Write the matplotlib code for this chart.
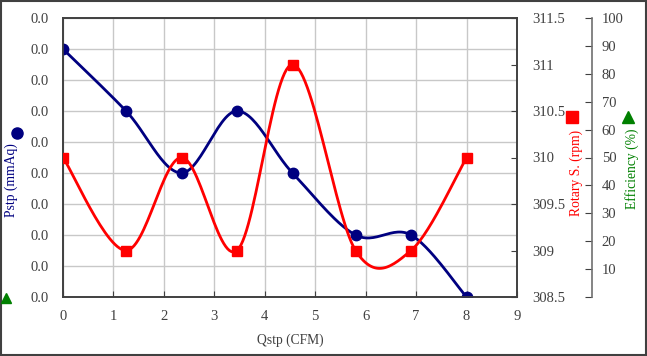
import matplotlib.pyplot as plt
import numpy as np
from matplotlib.patches import Rectangle
from matplotlib.ticker import FuncFormatter, MultipleLocator

plt.rcParams['font.family'] = ['Liberation Serif', 'DejaVu Serif']
plt.rcParams['font.size'] = 10.5

# data
qstp = [0.0, 1.25, 2.35, 3.45, 4.55, 5.8, 6.9, 8.0]
pstp = [0.008, 0.006, 0.004, 0.006, 0.004, 0.002, 0.002, 0.0]
rotary = [310, 309, 310, 309, 311, 309, 309, 310]
x_ticks = list(range(0, 10))
rot_ticks = [308.5, 309, 309.5, 310, 310.5, 311, 311.5]
eff_ticks = list(range(0, 101, 10))


def smooth(x, y, n=30):
    # excel-like smoothed line (catmull-rom bezier)
    x = np.asarray(x, float)
    y = np.asarray(y, float)
    px = np.concatenate([[x[0]], x, [x[-1]]])
    py = np.concatenate([[y[0]], y, [y[-1]]])
    xs, ys = [], []
    t = np.linspace(0, 1, n)
    for i in range(1, len(px) - 2):
        p0 = np.array([px[i], py[i]])
        p3 = np.array([px[i + 1], py[i + 1]])
        p1 = p0 + (np.array([px[i + 1], py[i + 1]]) - np.array([px[i - 1], py[i - 1]])) / 6
        p2 = p3 - (np.array([px[i + 2], py[i + 2]]) - np.array([px[i], py[i]])) / 6
        b = ((1 - t) ** 3)[:, None] * p0 + (3 * (1 - t) ** 2 * t)[:, None] * p1 \
            + (3 * (1 - t) * t ** 2)[:, None] * p2 + (t ** 3)[:, None] * p3
        xs.extend(b[:, 0])
        ys.extend(b[:, 1])
    return xs, ys


blue = '#000080'
red = '#ff0000'
green = '#008000'
axcol = '#404040'
txtcol = '#404040'
lab_fs = 9.8

fig = plt.figure(figsize=(6.47, 3.56), dpi=100)
ax = fig.add_axes([63 / 647, 1 - 297 / 356, 454 / 647, 279 / 356])
ax2 = ax.twinx()
ax3 = ax.twinx()

# Pstp
sx, sy = smooth(qstp, pstp)
ax.plot(sx, sy, color=blue, lw=2, zorder=3)
ax.plot(qstp, pstp, 'o', color=blue, ms=7.5, zorder=4)
ax.set_xlim(0, 9)
ax.set_ylim(0, 0.009)
ax.set_xticks(x_ticks)
ax.yaxis.set_major_locator(MultipleLocator(0.001))
ax.yaxis.set_major_formatter(FuncFormatter(lambda v, p: '%.1f' % v))
ax.grid(True, color='#c8c8c8', lw=1)
ax.set_axisbelow(True)
ax.tick_params(direction='in', colors=axcol, labelcolor=txtcol, length=4, pad=9)
ax.tick_params(axis='y', length=0, pad=10)
ax.set_xlabel('Qstp (CFM)', color=txtcol, fontsize=lab_fs)
ax.xaxis.set_label_coords(0.5, -0.13)
ax.set_ylabel('Pstp (mmAq)', color=blue, fontsize=lab_fs)
ax.yaxis.set_label_coords(-0.1, 0.42)

# Rotary speed
rx, ry = smooth(qstp, rotary)
ax2.plot(rx, ry, color=red, lw=2, zorder=3)
ax2.plot(qstp, rotary, 's', color=red, ms=7, zorder=4)
ax2.set_ylim(308.5, 311.5)
ax2.set_yticks(rot_ticks)
ax2.yaxis.set_major_formatter(FuncFormatter(lambda v, p: '%g' % v))
ax2.tick_params(direction='in', colors=axcol, labelcolor=txtcol, length=4, pad=11)
ax2.set_ylabel('Rotary S. (rpm)', color=red, fontsize=lab_fs)
ax2.yaxis.set_label_coords(1.115, 0.444)

# Efficiency (empty axis)
ax3.spines['right'].set_position(('axes', 1.165))
ax3.set_ylim(0, 100)
ax3.set_yticks(eff_ticks)
ax3.yaxis.set_major_formatter(FuncFormatter(lambda v, p: '' if v == 0 else '%d' % v))
ax3.tick_params(direction='in', colors=axcol, labelcolor=txtcol, length=5, pad=7)
ax3.set_ylabel('Efficiency (%)', color=green, fontsize=lab_fs)
ax3.yaxis.set_label_coords(1.237, 0.459)

for a in (ax, ax2, ax3):
    for s in a.spines.values():
        s.set_color(axcol)
        s.set_linewidth(1.2)
ax3.spines['right'].set_color('#707070')
for s in ('top', 'left', 'bottom'):
    ax3.spines[s].set_visible(False)

# legend-ish markers next to the labels
fig.lines.append(plt.Line2D([17 / 647], [1 - 133 / 356], marker='o', color=blue, ms=8, transform=fig.transFigure))
fig.lines.append(plt.Line2D([572 / 647], [1 - 117 / 356], marker='s', color=red, ms=8, transform=fig.transFigure))
fig.lines.append(plt.Line2D([628 / 647], [1 - 117 / 356], marker='^', color=green, ms=8, transform=fig.transFigure))
fig.lines.append(plt.Line2D([6 / 647], [1 - 298 / 356], marker='^', color=green, ms=7, transform=fig.transFigure))

fig.patches.append(Rectangle((0.0015, 0.003), 0.997, 0.994, transform=fig.transFigure,
                             fill=False, edgecolor='#404040', lw=1.5))

fig.savefig('out.png', dpi=100)
